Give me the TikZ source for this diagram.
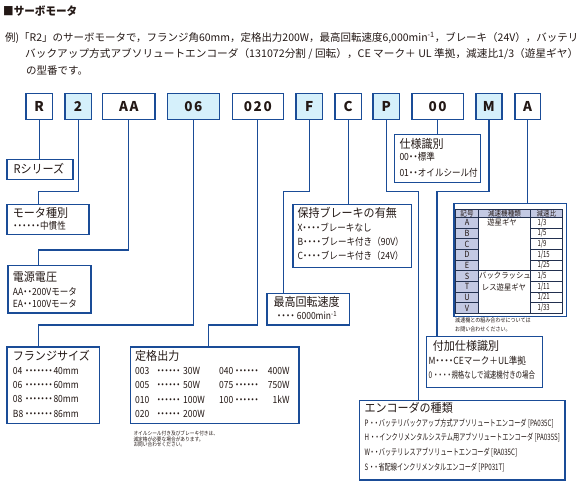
\documentclass[tikz,border=0pt]{standalone}
\usepackage{fontspec}
\usepackage{graphicx}
\setmainfont{Noto Sans CJK JP}
\newfontfamily\hdf{Noto Sans CJK JP}[FakeStretch=0.92]
\newfontfamily\bdf{Noto Sans CJK JP}[FakeStretch=0.87]
\newfontfamily\cdf{Noto Sans CJK JP}[FakeStretch=0.70]
\newfontfamily\codef{Noto Sans CJK JP}[LetterSpace=12]
\definecolor{bblue}{HTML}{1A4C97}
\definecolor{lblue}{HTML}{D5F0FB}
\definecolor{lav}{HTML}{C3C9E3}
\definecolor{txt}{HTML}{231815}
\definecolor{tline}{HTML}{22304F}
\newcommand\dt[1][4.5pt]{\makebox[#1]{・}}
\newcommand\tdots[1]{\foreach \i in {1,...,#1}{\dt[3.9pt]}}
\begin{document}
\begin{tikzpicture}[x=1pt,y=-1pt,
  code/.style={draw=bblue, line width=1.2pt, inner sep=0pt, anchor=north west,
    minimum height=26pt, text=txt, font=\codef\bfseries\fontsize{13.5}{14}\selectfont},
  hl/.style={fill=lblue},
  dbox/.style={draw=bblue, line width=1.2pt, inner sep=0pt, anchor=north west},
  hd/.style={anchor=west, inner sep=0pt, text=txt, font=\hdf\fontsize{12}{12}\selectfont},
  bd/.style={anchor=west, inner sep=0pt, text=txt, font=\bdf\fontsize{9.8}{9.8}\selectfont},
  cd/.style={anchor=west, inner sep=0pt, text=txt, font=\cdf\fontsize{9}{9}\selectfont},
  en/.style={anchor=west, inner sep=0pt, text=txt, font=\cdf\fontsize{8.8}{8.8}\selectfont},
  note/.style={anchor=west, inner sep=0pt, text=txt, font=\bdf\fontsize{5.4}{5.4}\selectfont},
  tt/.style={inner sep=0pt, text=txt, font=\bdf\fontsize{8}{8}\selectfont},
  ln/.style={draw=bblue, line width=1.2pt}]
\useasboundingbox (0,0) rectangle (586,486);

% title and intro
\node[anchor=west, inner sep=0pt, text=txt, font=\hdf\bfseries\fontsize{11.5}{11.5}\selectfont] (title) at (3,11) {■サーボモータ};
\node[anchor=west, inner sep=0pt, text=txt, font=\fontsize{10.5}{10.5}\selectfont] (intro1) at (5,37.5)
  {\resizebox{573pt}{\height}{例)「R2」のサーボモータで，フランジ角60mm，定格出力200W，最高回転速度6,000min\textsuperscript{-1}，ブレーキ（24V），バッテリ}};
\node[anchor=west, inner sep=0pt, text=txt, font=\fontsize{10.5}{10.5}\selectfont] (intro2) at (25,54)
  {\resizebox{553pt}{\height}{バックアップ方式アブソリュートエンコーダ（131072分割 / 回転），CE マーク＋ UL 準拠，減速比1/3（遊星ギヤ）}};
\node[anchor=west, inner sep=0pt, text=txt, font=\fontsize{10.5}{10.5}\selectfont] (intro3) at (26,70.5) {の型番です。};

% code boxes
\node[code, minimum width=26.4pt] (bR) at (25.3,93.3) {R};
\node[code, hl, minimum width=26.4pt] (b2) at (64.3,93.3) {2};
\node[code, minimum width=52.3pt] (bAA) at (102,93.3) {AA};
\node[code, hl, minimum width=51.7pt] (b06) at (167,93.3) {06};
\node[code, minimum width=51pt] (b020) at (231.7,93.3) {020};
\node[code, hl, minimum width=26.4pt] (bF) at (295.3,93.3) {F};
\node[code, minimum width=26.4pt] (bC) at (334.3,93.3) {C};
\node[code, hl, minimum width=26.7pt] (bP) at (372.3,93.3) {P};
\node[code, minimum width=51.4pt] (b00) at (411.3,93.3) {00};
\node[code, hl, minimum width=26pt] (bM) at (475.3,93.3) {M};
\node[code, minimum width=25.4pt] (bA) at (514.3,93.3) {A};

% description boxes
\node[dbox, minimum width=66pt, minimum height=19.4pt] (rser) at (6.3,159.3) {};
\node[dbox, minimum width=82pt, minimum height=30pt] (mtype) at (6.3,204.3) {};
\node[dbox, minimum width=83pt, minimum height=47.6pt] (volt) at (7.3,264.7) {};
\node[dbox, minimum width=92.4pt, minimum height=76.7pt] (flange) at (6.3,346.3) {};
\node[dbox, minimum width=168.6pt, minimum height=76.7pt] (rated) at (129.7,346.3) {};
\node[dbox, minimum width=82.4pt, minimum height=31.6pt] (speed) at (266.3,292.7) {};
\node[dbox, minimum width=118.4pt, minimum height=62.7pt] (brake) at (292.3,204) {};
\node[dbox, minimum width=86pt, minimum height=47.7pt] (spec) at (393.5,134) {};
\node[dbox, minimum width=112.4pt, minimum height=112.4pt] (tbl) at (453.3,203.3) {};
\node[dbox, minimum width=116pt, minimum height=50.7pt] (addl) at (425.7,336) {};
\node[dbox, minimum width=205.6pt, minimum height=79.3pt] (enc) at (358.7,400) {};

% junctions
\coordinate (j2) at (38.5,191.5);
\coordinate (jAA) at (38.5,250);
\coordinate (j06) at (38.5,325);
\coordinate (j020) at (208.7,325);
\coordinate (jF) at (283.3,191.7);
\coordinate (jP) at (418.3,191.7);
\coordinate (jM) at (437,191.7);

% connectors
\draw[ln] (bR.south) -- (bR.south |- rser.north);
\draw[ln] (b2.south) |- (j2) -- (j2 |- mtype.north);
\draw[ln] (bAA.south) |- (jAA) -- (jAA |- volt.north);
\draw[ln] (b06.south) |- (j06) -- (j06 |- flange.north);
\draw[ln] (b020.south) |- (j020) -- (j020 |- rated.north);
\draw[ln] (bF.south) |- (jF) -- (jF |- speed.north);
\draw[ln] (bC.south) -- (bC.south |- brake.north);
\draw[ln] (bP.south) |- (jP) -- (jP |- enc.north);
\draw[ln] (b00.south) -- (b00.south |- spec.north);
\draw[ln] (bM.south) |- (jM) -- (jM |- addl.north);
\draw[ln] (bA.south) -- (bA.south |- tbl.north);

% box texts
\node[hd] (rserT) at (13.3,169) {Rシリーズ};

\node[hd] (mtypeT) at (12.7,213) {モータ種別};
\node[bd] (mtype1) at (13,225.5) {\dt\dt\dt\dt\dt\dt 中慣性};

\node[hd] (voltT) at (12.7,276.7) {電源電圧};
\node[bd] (volt1) at (12.7,291.7) {AA\dt\dt 200Vモータ};
\node[bd] (volt2) at (12.7,304) {EA\dt\dt 100Vモータ};

\node[hd] (flangeT) at (12.7,356) {フランジサイズ};
\node[bd] (fl1) at (12.7,370.7) {\makebox[12.3pt][l]{04}\tdots{7}\hspace{1pt}40mm};
\node[bd] (fl2) at (12.7,385.3) {\makebox[12.3pt][l]{06}\tdots{7}\hspace{1pt}60mm};
\node[bd] (fl3) at (12.7,399.3) {\makebox[12.3pt][l]{08}\tdots{7}\hspace{1pt}80mm};
\node[bd] (fl4) at (12.7,414.3) {\makebox[12.3pt][l]{B8}\tdots{7}\hspace{1pt}86mm};

\node[hd] (ratedT) at (135,356) {定格出力};
\node[bd] (rt1) at (135,370.7) {\makebox[21.7pt][l]{003}\tdots{6}\hspace{2.9pt}\makebox[36pt][l]{30W}\makebox[16pt][l]{040}\tdots{6}\makebox[30.9pt][r]{400W}};
\node[bd] (rt2) at (135,385.3) {\makebox[21.7pt][l]{005}\tdots{6}\hspace{2.9pt}\makebox[36pt][l]{50W}\makebox[16pt][l]{075}\tdots{6}\makebox[30.9pt][r]{750W}};
\node[bd] (rt3) at (135,399.3) {\makebox[21.7pt][l]{010}\tdots{6}\hspace{2.9pt}\makebox[36pt][l]{100W}\makebox[16pt][l]{100}\tdots{6}\makebox[30.9pt][r]{1kW}};
\node[bd] (rt4) at (135,414.3) {\makebox[21.7pt][l]{020}\tdots{6}\hspace{2.9pt}\makebox[36pt][l]{200W}};
\node[note] (rn1) at (133.3,433.7) {オイルシール付き及びブレーキ付きは、};
\node[note] (rn2) at (133.3,439) {減定格が必要な場合があります。};
\node[note] (rn3) at (133.3,444.3) {お問い合わせください。};

\node[hd] (speedT) at (273.3,302.3) {最高回転速度};
\node[bd] (speed1) at (276.7,315.7) {\dt\dt\dt\dt\ 6000min\textsuperscript{-1}};

\node[hd] (brakeT) at (297.3,212.7) {保持ブレーキの有無};
\node[bd] (br1) at (297.3,227.7) {X\dt\dt\dt\dt ブレーキなし};
\node[bd] (br2) at (297.3,241.7) {B\dt\dt\dt\dt ブレーキ付き（90V）};
\node[bd] (br3) at (297.3,256) {C\dt\dt\dt\dt ブレーキ付き（24V）};

\node[hd] (specT) at (399.3,143.5) {仕様識別};
\node[bd] (sp1) at (399.3,156.7) {00\dt\dt 標準};
\node[bd] (sp2) at (399.3,172.7) {01\dt\dt オイルシール付};

\node[hd] (addlT) at (432.7,346) {付加仕様識別};
\node[bd] (ad1) at (428.3,361) {M\dt\dt\dt\dt CEマーク＋UL準拠};
\node[cd, font=\cdf\fontsize{9.2}{9.2}\selectfont] (ad2) at (428.3,375.3) {0\ \dt\dt\dt\dt 規格なしで減速機付きの場合};

\node[hd] (encT) at (364.3,408.3) {エンコーダの種類};
\node[en] (en1) at (364.3,423.3) {P\ \dt\dt バッテリバックアップ方式アブソリュートエンコーダ [PA035C]};
\node[en] (en2) at (364.3,437.7) {H\ \dt\dt インクリメンタルシステム用アブソリュートエンコーダ [PA035S]};
\node[en] (en3) at (364.3,452.7) {W\dt\dt バッテリレスアブソリュートエンコーダ [RA035C]};
\node[en] (en4) at (364.3,467.3) {S\ \dt\dt 省配線インクリメンタルエンコーダ [PP031T]};

% reduction table
\fill[lav] (455.5,209.3) rectangle (562.5,217.3);
\fill[lav] (455.5,217.3) rectangle (478.5,313.3);
\draw[tline, line width=0.7pt] (455.5,209.3) rectangle (562.5,313.3);
\draw[tline, line width=0.7pt] (478.5,209.3) -- (478.5,313.3);
\draw[tline, line width=0.7pt] (530.5,209.3) -- (530.5,313.3);
\draw[tline, line width=0.7pt] (455.5,217.3) -- (562.5,217.3);
\draw[tline, line width=0.7pt] (455.5,270.6) -- (562.5,270.6);
\foreach \k in {1,2,3,4,6,7,8}{
  \draw[tline, line width=0.7pt] (455.5,{217.3+10.667*\k}) -- (478.5,{217.3+10.667*\k});
  \draw[tline, line width=0.7pt] (530.5,{217.3+10.667*\k}) -- (562.5,{217.3+10.667*\k});
}
\node[tt, font=\bdf\fontsize{7.5}{7.5}\selectfont] (th1) at (467,213.3) {記号};
\node[tt, font=\bdf\fontsize{7.5}{7.5}\selectfont] (th2) at (504.5,213.3) {減速機種類};
\node[tt, font=\bdf\fontsize{7.5}{7.5}\selectfont] (th3) at (546.5,213.3) {減速比};
\foreach \l [count=\k from 0] in {A,B,C,D,E,S,T,U,V}
  \node[tt, font=\bdf\fontsize{8.5}{8.5}\selectfont] (tl\k) at (467,{217.3+10.667*(\k+0.5)}) {\l};
\foreach \r [count=\k from 0] in {1/3,1/5,1/9,1/15,1/25,1/5,1/11,1/21,1/33}
  \node[tt, anchor=west, font=\cdf\fontsize{8.5}{8.5}\selectfont] (tr\k) at (537.3,{217.3+10.667*(\k+0.5)}) {\r};
\node[tt, font=\hdf\fontsize{8}{8}\selectfont] (tg1) at (502,222.6) {遊星ギヤ};
\node[tt, font=\hdf\fontsize{8}{8}\selectfont] (tg2) at (505,276) {バックラッシュ};
\node[tt, font=\hdf\fontsize{8}{8}\selectfont] (tg3) at (504,286.9) {レス遊星ギヤ};
\node[note, font=\bdf\fontsize{5.8}{5.8}\selectfont] (tn1) at (455,320.7) {減速機との組み合わせについては};
\node[note, font=\bdf\fontsize{5.8}{5.8}\selectfont] (tn2) at (455,329) {お問い合わせください。};
\end{tikzpicture}
\end{document}
